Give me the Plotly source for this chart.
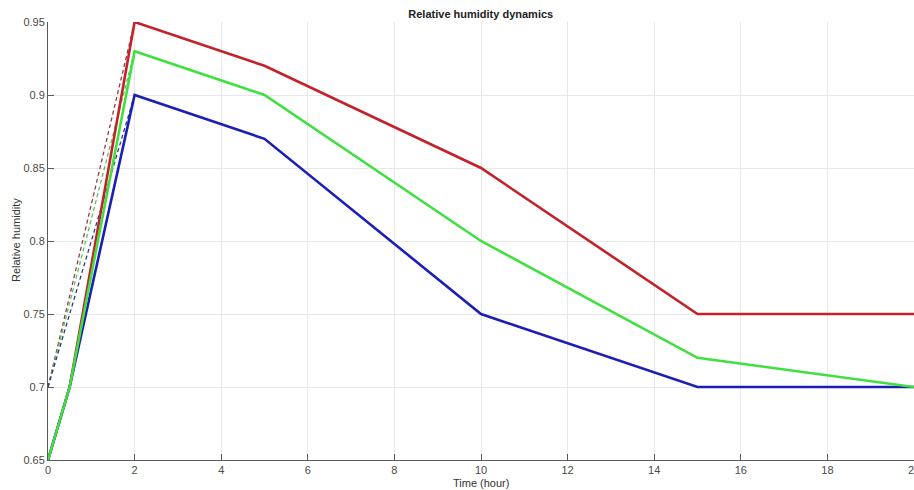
import plotly.graph_objects as go

time_h = [0, 0.5, 2, 5, 10, 15, 20]
rh_red = [0.65, 0.70, 0.95, 0.92, 0.85, 0.75, 0.75]
rh_green = [0.65, 0.70, 0.93, 0.90, 0.80, 0.72, 0.70]
rh_blue = [0.65, 0.70, 0.90, 0.87, 0.75, 0.70, 0.70]

dash_time = [0, 2]
dash_red = [0.70, 0.95]
dash_green = [0.70, 0.93]
dash_blue = [0.70, 0.90]

x_ticks = [0, 2, 4, 6, 8, 10, 12, 14, 16, 18, 20]
y_ticks = [0.65, 0.7, 0.75, 0.8, 0.85, 0.9, 0.95]
y_tick_text = ["0.65", "0.7", "0.75", "0.8", "0.85", "0.9", "0.95"]

RED = "#c4222b"
GREEN = "#3fe03f"
BLUE = "#1b1fb5"

W, H = 914, 490
L, R, T, B = 48, 0, 22, 30

fig = go.Figure()
for ys, c in [(dash_red, "#9a3a48"), (dash_green, "#55c455"), (dash_blue, "#2a3a8a")]:
    fig.add_trace(go.Scatter(x=dash_time, y=ys, mode="lines",
                             line=dict(color=c, width=1.3, dash="4px,3px"),
                             showlegend=False, hoverinfo="skip"))
for ys, c in [(rh_red, RED), (rh_blue, BLUE), (rh_green, GREEN)]:
    fig.add_trace(go.Scatter(x=time_h, y=ys, mode="lines",
                             line=dict(color=c, width=2.6),
                             showlegend=False))

axis_common = dict(
    showgrid=True, gridcolor="#e8e8e8", gridwidth=1,
    zeroline=False, showline=True, linecolor="#5a5a5a", linewidth=1,
    ticks="inside", ticklen=6, tickcolor="#5a5a5a",
    tickfont=dict(family="Liberation Sans, Arial", size=11, color="#4a4a4a"),
    mirror=False, ticklabeloverflow="allow", automargin=False,
)

title_font = dict(family="Liberation Sans, Arial", size=11, color="#333333")
pw = W - L - R
ph = H - T - B

fig.update_layout(
    width=W, height=H,
    margin=dict(l=L, r=R, t=T, b=B),
    paper_bgcolor="white", plot_bgcolor="white",
    title=dict(text="<b>Relative humidity dynamics</b>", x=0.526, xanchor="center",
               y=1 - 14 / H, yanchor="middle",
               font=dict(family="Liberation Sans, Arial", size=11, color="#222222")),
    xaxis=dict(range=[0, 20], tickvals=x_ticks, ticktext=[str(v) for v in x_ticks],
               **axis_common),
    yaxis=dict(range=[0.65, 0.95], tickvals=y_ticks, ticktext=y_tick_text,
               **axis_common),
    annotations=[
        dict(text="Time (hour)", xref="paper", yref="paper",
             x=0.5, y=-(483 - (H - B)) / ph, xanchor="center", yanchor="middle",
             showarrow=False, font=title_font),
        dict(text="Relative humidity", xref="paper", yref="paper",
             x=-(L - 16) / pw, y=(H - B - 240) / ph, xanchor="center", yanchor="middle",
             textangle=-90, showarrow=False, font=title_font),
    ],
)

fig.write_html("out.html")
